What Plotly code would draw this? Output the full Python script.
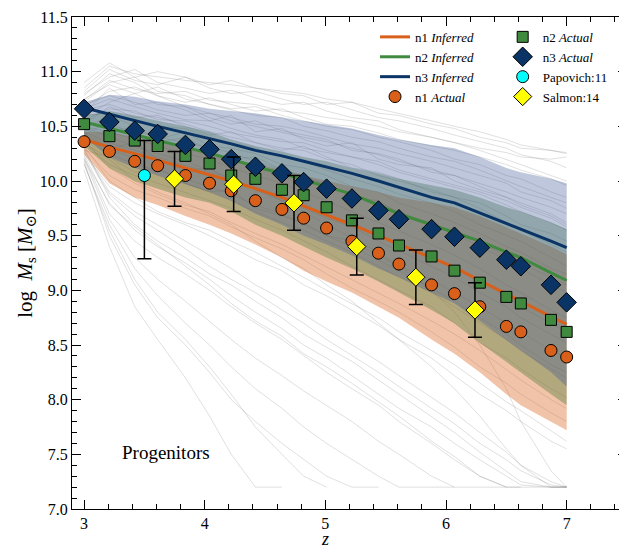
import plotly.graph_objects as go

# ---------------- data ----------------
z_snap = [3.0, 3.21, 3.42, 3.61, 3.84, 4.04, 4.22, 4.42, 4.64, 4.82, 5.01,
          5.22, 5.44, 5.61, 5.88, 6.07, 6.28, 6.50, 6.62, 6.87, 7.0]

n1_actual = [10.36, 10.27, 10.18, 10.14, 10.05, 9.98, 9.91, 9.82, 9.74, 9.66, 9.57,
             9.45, 9.34, 9.24, 9.05, 8.97, 8.85, 8.67, 8.62, 8.45, 8.39]
n2_actual = [10.52, 10.41, 10.37, 10.32, 10.23, 10.16, 10.05, 10.02, 9.92, 9.87, 9.76,
             9.64, 9.52, 9.41, 9.31, 9.18, 9.07, 8.94, 8.88, 8.73, 8.62]
n3_actual = [10.66, 10.54, 10.46, 10.43, 10.33, 10.29, 10.20, 10.13, 10.07, 9.99, 9.93,
             9.84, 9.73, 9.65, 9.56, 9.49, 9.39, 9.28, 9.22, 9.05, 8.89]

n1_inferred = [10.38, 10.31, 10.25, 10.19, 10.12, 10.06, 10.00, 9.93, 9.85, 9.77, 9.69,
               9.60, 9.50, 9.42, 9.30, 9.21, 9.09, 8.97, 8.90, 8.76, 8.69]
n2_inferred = [10.54, 10.48, 10.42, 10.37, 10.31, 10.25, 10.20, 10.13, 10.07, 10.01, 9.95,
               9.88, 9.78, 9.70, 9.60, 9.53, 9.45, 9.35, 9.30, 9.16, 9.09]
n3_inferred = [10.67, 10.61, 10.55, 10.50, 10.44, 10.39, 10.34, 10.28, 10.23, 10.18, 10.13,
               10.07, 10.00, 9.94, 9.85, 9.80, 9.71, 9.61, 9.56, 9.45, 9.39]

n1_hi = [10.45, 10.45, 10.40, 10.36, 10.30, 10.25, 10.21, 10.16, 10.10, 10.05, 10.00,
         9.95, 9.90, 9.85, 9.80, 9.76, 9.68, 9.58, 9.52, 9.40, 9.33]
n1_lo = [10.25, 9.98, 9.85, 9.78, 9.68, 9.60, 9.52, 9.42, 9.30, 9.18, 9.08,
         8.98, 8.85, 8.75, 8.55, 8.42, 8.25, 8.05, 7.95, 7.80, 7.72]
n2_hi = [10.60, 10.64, 10.60, 10.55, 10.50, 10.45, 10.38, 10.32, 10.27, 10.22, 10.18,
         10.12, 10.07, 10.02, 9.96, 9.92, 9.85, 9.76, 9.72, 9.62, 9.56]
n2_lo = [10.32, 10.12, 10.00, 9.93, 9.85, 9.80, 9.72, 9.60, 9.50, 9.40, 9.30,
         9.20, 9.08, 8.98, 8.82, 8.70, 8.52, 8.35, 8.25, 8.05, 7.95]
n3_hi = [10.72, 10.79, 10.77, 10.73, 10.70, 10.66, 10.64, 10.62, 10.58, 10.55, 10.52,
         10.48, 10.42, 10.38, 10.33, 10.30, 10.22, 10.12, 10.08, 10.02, 9.98]
n3_lo = [10.40, 10.22, 10.12, 10.05, 9.97, 9.90, 9.82, 9.70, 9.60, 9.50, 9.42,
         9.32, 9.20, 9.12, 8.98, 8.88, 8.72, 8.55, 8.45, 8.25, 8.12]

papovich_z = [3.50]
papovich_m = [10.05]
papovich_up = [0.32]
papovich_dn = [0.76]

salmon_z = [3.75, 4.24, 4.74, 5.26, 5.75, 6.24]
salmon_m = [10.02, 9.97, 9.80, 9.40, 9.12, 8.82]
salmon_err = [0.25, 0.25, 0.25, 0.26, 0.25, 0.25]

# individual progenitor tracks (grey background), values at z_snap
tracks = [
    [10.85, 11.05, 10.98, 10.95, 10.92, 10.90, 10.88, 10.85, 10.82, 10.80, 10.75, 10.72, 10.66, 10.62, 10.55, 10.50, 10.45, 10.38, 10.33, 10.28, 10.25],
    [10.80, 10.95, 11.02, 10.90, 10.85, 10.80, 10.83, 10.76, 10.70, 10.72, 10.64, 10.58, 10.55, 10.47, 10.40, 10.35, 10.28, 10.20, 10.15, 10.05, 10.00],
    [10.75, 10.88, 10.80, 10.86, 10.75, 10.70, 10.66, 10.68, 10.60, 10.55, 10.50, 10.47, 10.40, 10.36, 10.28, 10.20, 10.15, 10.05, 10.02, 9.90, 9.85],
    [10.70, 10.78, 10.72, 10.65, 10.60, 10.62, 10.55, 10.50, 10.44, 10.40, 10.36, 10.30, 10.24, 10.18, 10.10, 10.05, 9.95, 9.85, 9.80, 9.70, 9.62],
    [10.65, 10.70, 10.62, 10.58, 10.52, 10.45, 10.40, 10.35, 10.30, 10.28, 10.20, 10.15, 10.05, 10.00, 9.92, 9.85, 9.75, 9.62, 9.55, 9.42, 9.35],
    [10.60, 10.62, 10.55, 10.50, 10.48, 10.40, 10.35, 10.30, 10.22, 10.18, 10.10, 10.02, 9.95, 9.88, 9.80, 9.72, 9.60, 9.50, 9.45, 9.30, 9.22],
    [10.55, 10.50, 10.46, 10.40, 10.35, 10.30, 10.26, 10.18, 10.10, 10.05, 9.96, 9.88, 9.80, 9.72, 9.60, 9.52, 9.40, 9.28, 9.20, 9.05, 8.98],
    [10.50, 10.45, 10.38, 10.32, 10.25, 10.20, 10.12, 10.05, 9.98, 9.90, 9.82, 9.72, 9.62, 9.55, 9.42, 9.32, 9.20, 9.05, 8.98, 8.82, 8.75],
    [10.45, 10.35, 10.28, 10.22, 10.15, 10.08, 10.00, 9.92, 9.85, 9.75, 9.66, 9.58, 9.45, 9.36, 9.22, 9.12, 8.98, 8.85, 8.75, 8.60, 8.52],
    [10.40, 10.25, 10.15, 10.10, 10.02, 9.95, 9.88, 9.78, 9.70, 9.60, 9.50, 9.40, 9.28, 9.18, 9.02, 8.90, 8.75, 8.60, 8.50, 8.32, 8.25],
    [10.35, 10.15, 10.05, 9.98, 9.90, 9.82, 9.75, 9.65, 9.55, 9.45, 9.35, 9.22, 9.10, 9.00, 8.85, 8.70, 8.52, 8.38, 8.28, 8.10, 8.02],
    [10.30, 10.05, 9.92, 9.85, 9.75, 9.68, 9.58, 9.48, 9.38, 9.28, 9.15, 9.02, 8.90, 8.80, 8.62, 8.48, 8.30, 8.15, 8.05, 7.88, 7.80],
    [10.25, 9.95, 9.80, 9.70, 9.60, 9.50, 9.40, 9.28, 9.18, 9.05, 8.95, 8.82, 8.68, 8.55, 8.38, 8.22, 8.05, 7.90, 7.80, 7.62, 7.55],
    [10.20, 9.80, 9.55, 9.40, 9.25, 9.10, 8.95, 8.80, 8.65, 8.50, 8.38, 8.22, 8.05, 7.92, 7.75, 7.60, 7.45, 7.30, 7.22, 7.20, 7.20],
    [10.15, 9.60, 9.20, 8.95, 8.70, 8.50, 8.30, 8.10, 7.92, 7.75, 7.60, 7.45, 7.30, 7.20, 7.20, 7.20, None, None, None, None, None],
    [10.10, 9.40, 8.85, 8.55, 8.20, 7.85, 7.50, 7.20, 7.20, None, None, None, None, None, None, None, None, None, None, None, None],
    [10.30, 9.85, 9.60, 9.45, 9.30, 9.15, 9.05, 8.90, 8.75, 8.60, 8.48, 8.35, 8.18, 8.05, 7.85, 7.70, 7.52, 7.35, 7.25, 7.20, 7.20],
    [10.62, 10.85, 10.70, 10.72, 10.65, 10.55, 10.60, 10.45, 10.48, 10.38, 10.32, 10.35, 10.20, 10.15, 10.12, 10.00, 9.92, 9.85, 9.78, 9.68, 9.60],
    [10.72, 10.90, 10.95, 10.82, 10.78, 10.70, 10.65, 10.60, 10.58, 10.50, 10.46, 10.40, 10.36, 10.30, 10.22, 10.18, 10.10, 10.00, 9.95, 9.85, 9.80],
    [10.52, 10.68, 10.58, 10.60, 10.50, 10.42, 10.45, 10.35, 10.28, 10.32, 10.22, 10.12, 10.08, 10.02, 9.90, 9.85, 9.80, 9.68, 9.60, 9.52, 9.45],
    [10.42, 10.55, 10.40, 10.35, 10.40, 10.28, 10.20, 10.22, 10.10, 10.02, 9.98, 9.85, 9.82, 9.70, 9.62, 9.50, 9.45, 9.30, 9.25, 9.12, 9.05],
    [10.38, 10.30, 10.35, 10.20, 10.10, 10.12, 10.00, 9.95, 9.82, 9.80, 9.68, 9.62, 9.50, 9.42, 9.30, 9.20, 9.08, 8.95, 8.85, 8.70, 8.62],
    [10.28, 10.22, 10.08, 10.12, 9.98, 9.90, 9.92, 9.75, 9.68, 9.62, 9.50, 9.45, 9.32, 9.22, 9.10, 8.98, 8.85, 8.70, 8.62, 8.45, 8.38],
    [10.48, 10.60, 10.50, 10.38, 10.45, 10.32, 10.30, 10.25, 10.15, 10.12, 10.05, 9.95, 9.90, 9.80, 9.70, 9.62, 9.52, 9.40, 9.35, 9.20, 9.15],
    [10.90, 11.08, 10.95, 11.00, 10.95, 10.88, 10.92, 10.85, 10.80, 10.78, 10.70, 10.72, 10.62, 10.60, 10.52, 10.48, 10.40, 10.35, 10.30, 10.28, 10.26],
    [10.50, 10.40, 10.32, 10.25, 10.18, 10.10, 10.02, 9.92, 9.82, 9.72, 9.60, 9.48, 9.35, 9.22, 9.00, 8.80, 8.50, 8.10, 7.80, 7.35, 7.20],
    [10.35, 10.20, 10.00, 9.90, 9.80, 9.70, 9.60, 9.45, 9.30, 9.20, 9.05, 8.90, 8.70, 8.55, 8.30, 8.10, 7.85, 7.55, 7.40, 7.20, 7.20],
    [10.58, 10.72, 10.80, 10.70, 10.68, 10.58, 10.52, 10.55, 10.46, 10.42, 10.38, 10.28, 10.25, 10.20, 10.08, 10.05, 9.98, 9.90, 9.85, 9.76, 9.70],
    [10.22, 9.70, 9.45, 9.30, 9.15, 9.00, 8.85, 8.70, 8.55, 8.40, 8.25, 8.10, 7.95, 7.80, 7.60, 7.45, 7.30, 7.20, 7.20, 7.20, 7.20],
    [10.18, 9.50, 9.05, 8.75, 8.50, 8.25, 8.00, 7.80, 7.60, 7.45, 7.30, 7.20, 7.20, None, None, None, None, None, None, None, None],
    [10.82, 11.02, 10.92, 10.88, 10.95, 10.85, 10.80, 10.82, 10.75, 10.70, 10.72, 10.65, 10.58, 10.55, 10.48, 10.42, 10.36, 10.30, 10.24, 10.18, 10.12],
    [10.78, 10.98, 10.90, 10.78, 10.72, 10.76, 10.70, 10.64, 10.66, 10.58, 10.52, 10.50, 10.44, 10.38, 10.32, 10.28, 10.22, 10.15, 10.10, 10.02, 9.96],
    [10.68, 10.82, 10.86, 10.78, 10.68, 10.62, 10.58, 10.52, 10.50, 10.46, 10.40, 10.34, 10.30, 10.25, 10.18, 10.12, 10.05, 9.98, 9.90, 9.82, 9.75],
    [10.66, 10.75, 10.68, 10.62, 10.56, 10.55, 10.48, 10.42, 10.38, 10.30, 10.26, 10.22, 10.15, 10.08, 10.00, 9.94, 9.88, 9.78, 9.72, 9.62, 9.55],
    [10.28, 9.90, 9.72, 9.60, 9.45, 9.32, 9.20, 9.05, 8.92, 8.78, 8.65, 8.50, 8.35, 8.22, 8.02, 7.88, 7.70, 7.52, 7.40, 7.25, 7.20],
    [10.24, 9.78, 9.58, 9.42, 9.22, 9.05, 8.88, 8.72, 8.58, 8.42, 8.30, 8.15, 7.98, 7.85, 7.62, 7.48, 7.30, 7.20, 7.20, None, None],
    [10.32, 10.00, 9.85, 9.72, 9.62, 9.55, 9.45, 9.35, 9.22, 9.12, 9.00, 8.88, 8.75, 8.62, 8.45, 8.32, 8.15, 7.98, 7.90, 7.72, 7.62],
    [10.20, 9.65, 9.30, 9.10, 8.90, 8.72, 8.55, 8.38, 8.22, 8.08, 7.95, 7.80, 7.62, 7.50, 7.30, 7.20, 7.20, 7.20, None, None, None],
    [10.38, 10.12, 9.98, 9.88, 9.78, 9.72, 9.62, 9.52, 9.42, 9.32, 9.22, 9.10, 8.98, 8.88, 8.72, 8.60, 8.45, 8.28, 8.18, 8.00, 7.92],
    [10.44, 10.30, 10.20, 10.05, 9.98, 9.90, 9.82, 9.72, 9.62, 9.55, 9.45, 9.35, 9.22, 9.12, 8.98, 8.85, 8.70, 8.55, 8.45, 8.28, 8.20],
    [10.16, 9.55, 9.10, 8.80, 8.55, 8.30, 8.05, 7.75, 7.50, 7.30, 7.20, None, None, None, None, None, None, None, None, None, None],
    [10.26, 9.88, 9.68, 9.55, 9.38, 9.22, 9.10, 8.98, 8.82, 8.70, 8.55, 8.40, 8.25, 8.12, 7.92, 7.78, 7.60, 7.45, 7.35, 7.22, 7.20],
    [10.74, 10.92, 10.84, 10.80, 10.82, 10.74, 10.72, 10.70, 10.64, 10.62, 10.58, 10.55, 10.50, 10.45, 10.40, 10.35, 10.30, 10.26, 10.22, 10.20, 10.22],
    [10.56, 10.66, 10.64, 10.56, 10.55, 10.50, 10.44, 10.40, 10.36, 10.35, 10.28, 10.22, 10.18, 10.10, 10.02, 9.96, 9.90, 9.82, 9.76, 9.66, 9.58],
]

ORANGE = "#d9601a"
GREEN = "#3f8a3f"
NAVY = "#0a3466"
SERIF = "Liberation Serif, DejaVu Serif, serif"

fig = go.Figure()

# grey tracks
for t in tracks:
    fig.add_trace(go.Scatter(x=z_snap, y=t, mode="lines", showlegend=False,
                             line=dict(color="rgba(100,100,100,0.2)", width=1),
                             hoverinfo="skip"))

# bands
def band(lo, hi, fillcolor):
    fig.add_trace(go.Scatter(x=z_snap + z_snap[::-1], y=hi + lo[::-1], mode="lines",
                             fill="toself", fillcolor=fillcolor, line=dict(width=0),
                             showlegend=False, hoverinfo="skip"))

band(n1_lo, n1_hi, "rgba(217,96,26,0.38)")
band(n2_lo, n2_hi, "rgba(52,113,43,0.33)")
band(n3_lo, n3_hi, "rgba(60,85,150,0.33)")

# inferred lines
fig.add_trace(go.Scatter(x=z_snap, y=n1_inferred, mode="lines", name="n1 <i>Inferred</i>",
                         line=dict(color=ORANGE, width=3), legend="legend"))
fig.add_trace(go.Scatter(x=z_snap, y=n2_inferred, mode="lines", name="n2 <i>Inferred</i>",
                         line=dict(color=GREEN, width=3), legend="legend"))
fig.add_trace(go.Scatter(x=z_snap, y=n3_inferred, mode="lines", name="n3 <i>Inferred</i>",
                         line=dict(color=NAVY, width=3), legend="legend"))

# actual markers
fig.add_trace(go.Scatter(x=z_snap, y=n1_actual, mode="markers", name="n1 <i>Actual</i>",
                         marker=dict(symbol="circle", size=12, color=ORANGE,
                                     line=dict(color="black", width=1)), legend="legend"))
fig.add_trace(go.Scatter(x=z_snap, y=n2_actual, mode="markers", name="n2 <i>Actual</i>",
                         marker=dict(symbol="square", size=11, color=GREEN,
                                     line=dict(color="black", width=1)), legend="legend2"))
fig.add_trace(go.Scatter(x=z_snap, y=n3_actual, mode="markers", name="n3 <i>Actual</i>",
                         marker=dict(symbol="diamond", size=15, color=NAVY,
                                     line=dict(color="black", width=1)), legend="legend2"))

# observations
fig.add_trace(go.Scatter(x=papovich_z, y=papovich_m, mode="markers", name="Papovich:11",
                         marker=dict(symbol="circle", size=12, color="cyan",
                                     line=dict(color="black", width=1)),
                         error_y=dict(type="data", symmetric=False, array=papovich_up,
                                      arrayminus=papovich_dn, color="black",
                                      thickness=1.5, width=7),
                         legend="legend2"))
fig.add_trace(go.Scatter(x=salmon_z, y=salmon_m, mode="markers", name="Salmon:14",
                         marker=dict(symbol="diamond", size=14, color="yellow",
                                     line=dict(color="black", width=1)),
                         error_y=dict(type="data", array=salmon_err, color="black",
                                      thickness=1.5, width=7),
                         legend="legend2"))

fig.add_annotation(x=3.68, y=7.52, xref="x", yref="y", text="Progenitors",
                   showarrow=False, font=dict(family=SERIF, size=19, color="black"))
# x-axis label
fig.add_annotation(x=5.0, y=0, xref="x", yref="paper", yshift=-30, text="<i>z</i>",
                   showarrow=False, yanchor="middle",
                   font=dict(family=SERIF, size=18, color="black"))

axis_common = dict(showline=True, linecolor="black", linewidth=1.2, mirror="allticks",
                   ticks="inside", ticklen=9, tickwidth=1, tickcolor="black",
                   showgrid=False, zeroline=False, automargin=False,
                   tickfont=dict(family=SERIF, size=16, color="black"))

fig.update_xaxes(range=[2.9, 7.5], tick0=3, dtick=1,
                 minor=dict(ticks="inside", ticklen=5, dtick=0.2, tick0=3, tickcolor="black", showgrid=False),
                 **axis_common)
fig.update_yaxes(range=[7.0, 11.5], tick0=7, dtick=0.5, tickformat=".1f",
                 minor=dict(ticks="inside", ticklen=5, dtick=0.1, tick0=7, tickcolor="black", showgrid=False),
                 title=dict(text="log  <i>M</i><sub>s</sub> [<i>M</i><sub>⊙</sub>]",
                            font=dict(family=SERIF, size=21, color="black"), standoff=1),
                 **axis_common)

legend_common = dict(bgcolor="rgba(0,0,0,0)", borderwidth=0, itemwidth=30,
                     font=dict(family=SERIF, size=13, color="black"),
                     xanchor="left", yanchor="top", tracegroupgap=0)
# the page body has an 8px default margin, so margins are offset to place the
# plot area where the reference has it
fig.update_layout(
    width=627, height=550,
    margin=dict(l=64, r=8, t=9, b=49),
    plot_bgcolor="white", paper_bgcolor="white",
    legend=dict(x=0.546, y=0.99, **legend_common),
    legend2=dict(x=0.776, y=0.99, **legend_common),
)

fig.write_html("out.html")
